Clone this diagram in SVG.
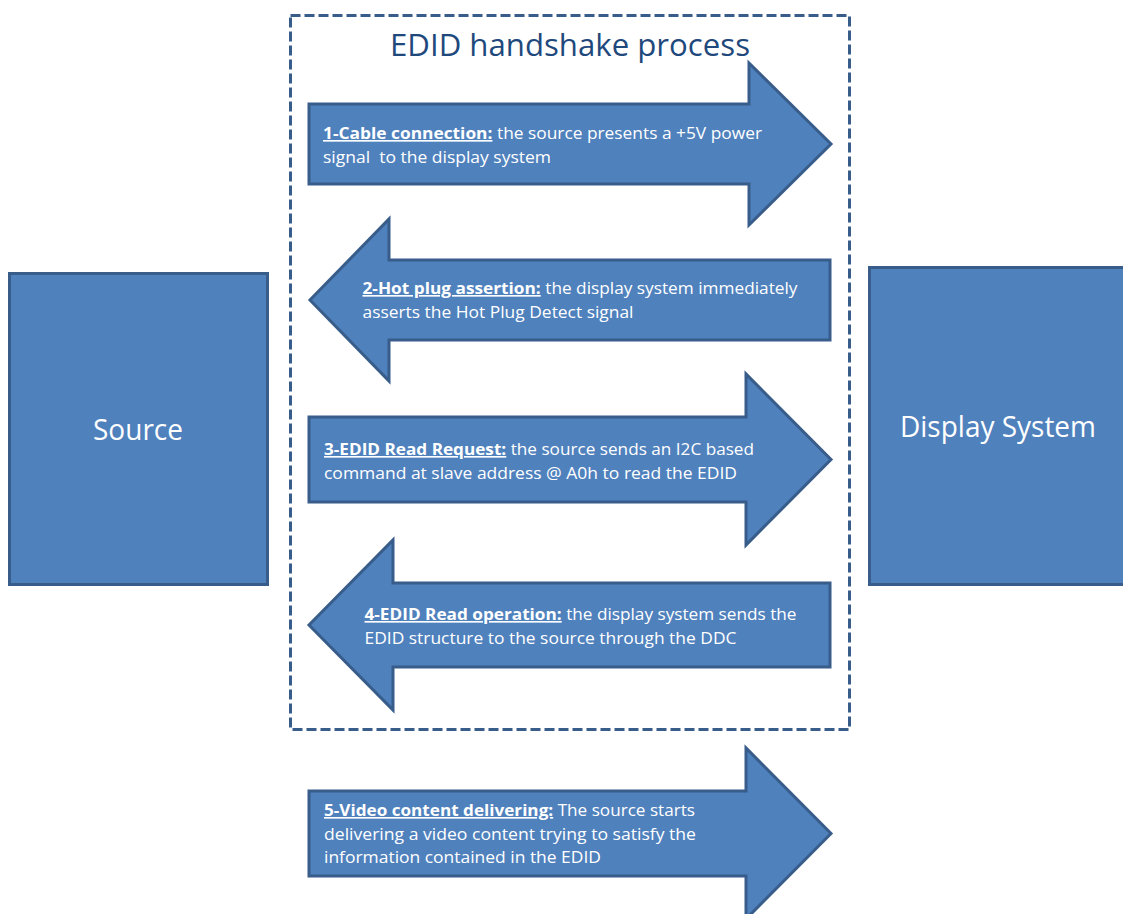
<svg xmlns="http://www.w3.org/2000/svg" width="1123" height="914" viewBox="0 0 1123 914">
<style>
.shape{fill:#4F81BD;stroke:#385D8A;stroke-width:3;stroke-linejoin:miter}
.frame{fill:none;stroke:#385D8A;stroke-width:3;stroke-dasharray:10 4}
.t{font-family:"Open Sans","Liberation Sans",sans-serif;font-size:16.5px;fill:#FFFFFF}
.b{font-weight:bold;text-decoration:underline}
.big{font-family:"Open Sans","Liberation Sans",sans-serif;font-size:29px;fill:#FFFFFF;text-anchor:middle}
.title{font-family:"Open Sans","Liberation Sans",sans-serif;font-size:31px;fill:#1F497D;text-anchor:middle}
</style>
<rect width="1123" height="914" fill="#FFFFFF"/>
<g id="edid-frame">
<rect class="frame" x="290.5" y="15.5" width="559" height="714"/>
<text class="title" x="570" y="56" textLength="360" lengthAdjust="spacingAndGlyphs">EDID handshake process</text>
</g>
<g id="source">
<rect class="shape" x="9.5" y="273.5" width="258" height="311"/>
<text class="big" x="138" y="440" textLength="90" lengthAdjust="spacingAndGlyphs">Source</text>
</g>
<g id="display-system">
<rect class="shape" x="869.5" y="267.5" width="258" height="317"/>
<text class="big" x="998" y="437" textLength="196" lengthAdjust="spacingAndGlyphs">Display System</text>
</g>
<g id="connectors">
<g id="step1">
<path class="shape" d="M309,104 H749 V63 L831,144 L749,225 V184 H309 Z"/>
<text class="t" x="323" y="139" textLength="439" lengthAdjust="spacingAndGlyphs"><tspan class="b">1-Cable connection:</tspan> the source presents a +5V power</text>
<text class="t" x="323" y="163" textLength="228" lengthAdjust="spacingAndGlyphs" xml:space="preserve">signal  to the display system</text>
</g>
<g id="step2">
<path class="shape" d="M830,260 H389 V219 L310,300 L389,381 V340 H830 Z"/>
<text class="t" x="362.5" y="294" textLength="435" lengthAdjust="spacingAndGlyphs"><tspan class="b">2-Hot plug assertion:</tspan> the display system immediately</text>
<text class="t" x="362.5" y="318" textLength="271" lengthAdjust="spacingAndGlyphs">asserts the Hot Plug Detect signal</text>
</g>
<g id="step3">
<path class="shape" d="M309,417 H746 V374 L831,459.5 L746,545 V502 H309 Z"/>
<text class="t" x="324" y="455" textLength="430" lengthAdjust="spacingAndGlyphs"><tspan class="b">3-EDID Read Request:</tspan> the source sends an I2C based</text>
<text class="t" x="324" y="479" textLength="413" lengthAdjust="spacingAndGlyphs">command at slave address @ A0h to read the EDID</text>
</g>
<g id="step4">
<path class="shape" d="M830,583 H393 V540 L309,625 L393,710 V667 H830 Z"/>
<text class="t" x="364.5" y="620" textLength="432" lengthAdjust="spacingAndGlyphs"><tspan class="b">4-EDID Read operation:</tspan> the display system sends the</text>
<text class="t" x="364.5" y="644" textLength="372" lengthAdjust="spacingAndGlyphs">EDID structure to the source through the DDC</text>
</g>
<g id="step5">
<path class="shape" d="M309,791 H746 V748 L831,833.5 L746,919 V876 H309 Z"/>
<text class="t" x="324" y="816" textLength="371" lengthAdjust="spacingAndGlyphs"><tspan class="b">5-Video content delivering:</tspan> The source starts</text>
<text class="t" x="324" y="840" textLength="372" lengthAdjust="spacingAndGlyphs">delivering a video content trying to satisfy the</text>
<text class="t" x="324" y="863" textLength="277" lengthAdjust="spacingAndGlyphs">information contained in the EDID</text>
</g>
</g>
</svg>
